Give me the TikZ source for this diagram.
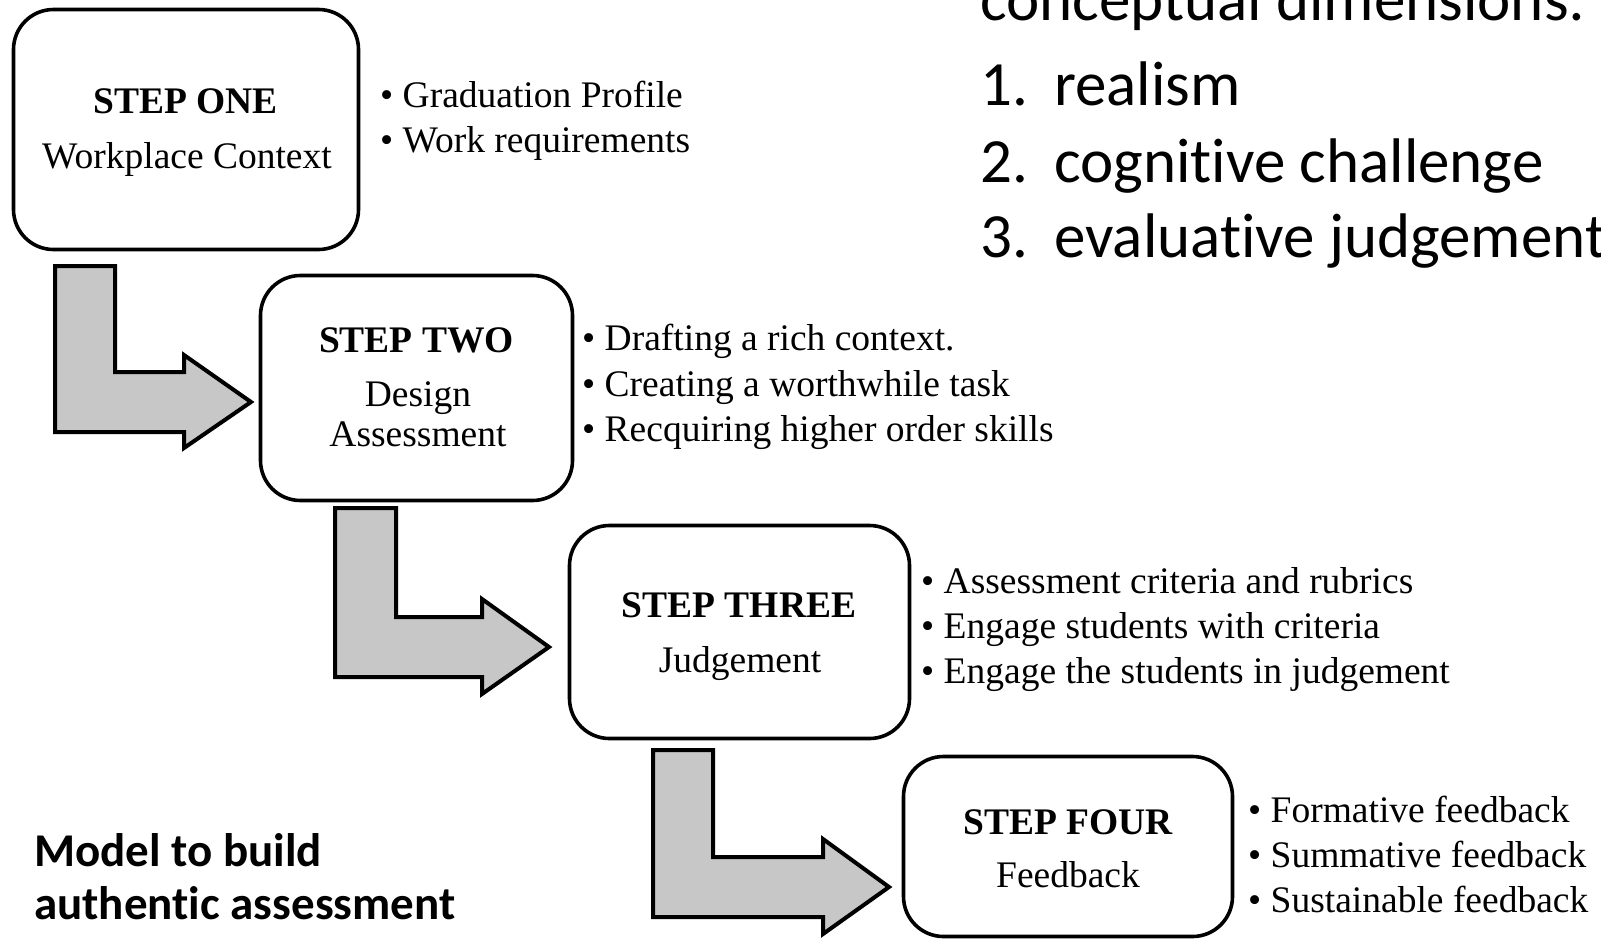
\documentclass[tikz,border=0pt]{standalone}
\usepackage{fontspec}
\setmainfont{Liberation Serif}
\newfontfamily\calibri[Ligatures={NoCommon}]{Carlito}
\begin{document}
\begin{tikzpicture}[x=1pt,y=-1pt,
  stepbox/.style={draw=black, line width=3.6pt, rounded corners=40pt, inner sep=0pt},
  lshape/.style={draw=black, fill=black!22, line width=4pt, line join=miter},
  txt/.style={inner sep=0pt, font=\fontsize{37.5}{45}\selectfont},
  steptitle/.style={txt, anchor=base, font=\fontsize{37.5}{45}\selectfont\bfseries},
  stepsub/.style={txt, anchor=base},
  bullet/.style={txt, anchor=base west},
  dimtext/.style={inner sep=0pt, anchor=base west, font=\calibri\fontsize{63}{77}\selectfont},
  modeltext/.style={inner sep=0pt, anchor=base west, font=\calibri\bfseries\fontsize{47}{53}\selectfont}]
\useasboundingbox (0,0) rectangle (1601,943);
\clip (0,0) rectangle (1601,943);
\fill[white] (0,0) rectangle (1601,943);

% boxes
\node[stepbox, minimum width=345pt, minimum height=240pt] (b1) at (186,129.5) {};
\node[stepbox, minimum width=312pt, minimum height=225pt] (b2) at (416.5,388) {};
\node[stepbox, minimum width=340pt, minimum height=213pt] (b3) at (739.5,632) {};
\node[stepbox, minimum width=329pt, minimum height=180pt] (b4) at (1068,846.5) {};

% box texts
\node[steptitle] (s1t) at (185.5,113) {STEP ONE};
\node[stepsub] (s1s) at (187,168) {Workplace Context};
\node[steptitle] (s2t) at (416.5,352) {STEP TWO};
\node[stepsub] (s2s) at (418,406) {Design};
\node[stepsub] (s2u) at (418,446) {Assessment};
\node[steptitle] (s3t) at (739,617) {STEP THREE};
\node[stepsub] (s3s) at (740,672) {Judgement};
\node[steptitle] (s4t) at (1068,834) {STEP FOUR};
\node[stepsub] (s4s) at (1068,887) {Feedback};

% bullets
\node[bullet] (p11) at (380,107) {• Graduation Profile};
\node[bullet] (p12) at (380,152) {• Work requirements};
\node[bullet] (p21) at (582,350) {• Drafting a rich context.};
\node[bullet] (p22) at (582,396) {• Creating a worthwhile task};
\node[bullet] (p23) at (582,441) {• Recquiring higher order skills};
\node[bullet] (p31) at (921,593) {• Assessment criteria and rubrics};
\node[bullet] (p32) at (921,638) {• Engage students with criteria};
\node[bullet] (p33) at (921,683) {• Engage the students in judgement};
\node[bullet] (p41) at (1248,822) {• Formative feedback};
\node[bullet] (p42) at (1248,867) {• Summative feedback};
\node[bullet] (p43) at (1248,912) {• Sustainable feedback};

% L arrows
\draw[lshape] (55,266) -- (115,266) -- (115,372) -- (184,372) -- (184,355) -- (251,402) -- (184,448) -- (184,432) -- (55,432) -- cycle;
\draw[lshape] (335,508) -- (396,508) -- (396,617) -- (482,617) -- (482,599) -- (549,647) -- (482,694) -- (482,677) -- (335,677) -- cycle;
\draw[lshape] (653,750) -- (713,750) -- (713,857) -- (823,857) -- (823,839) -- (889,887) -- (823,934) -- (823,917) -- (653,917) -- cycle;

% dimensions text
\node[dimtext] (d0) at (980,20) {conceptual dimensions:};
\node[dimtext] (d1) at (980,105) {\makebox[74pt][l]{1.}realism};
\node[dimtext] (d2) at (980,182) {\makebox[74pt][l]{2.}cognitive challenge};
\node[dimtext] (d3) at (980,257) {\makebox[74pt][l]{3.}evaluative judgement};

% model text
\node[modeltext] (m1) at (34,866) {Model to build};
\node[modeltext] (m2) at (34,919) {authentic assessment};
\end{tikzpicture}
\end{document}
